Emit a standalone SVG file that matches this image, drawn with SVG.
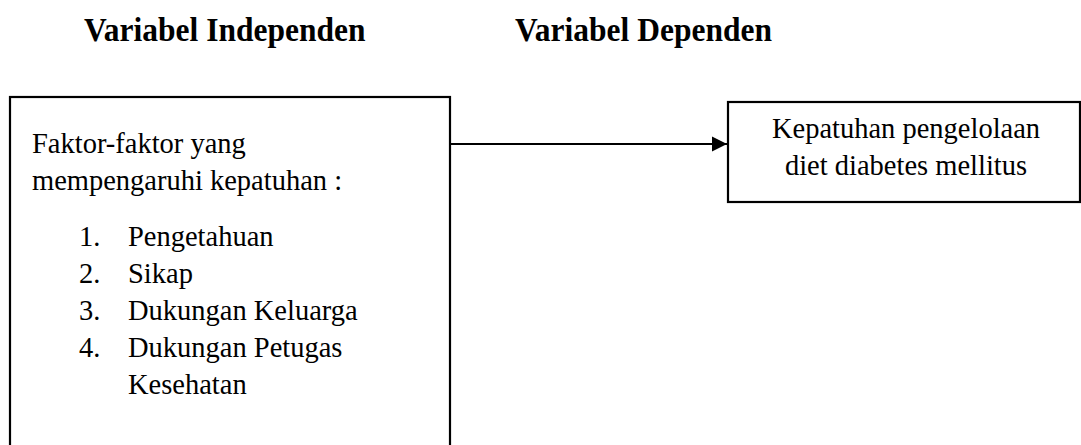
<svg xmlns="http://www.w3.org/2000/svg" width="1081" height="445" viewBox="0 0 1081 445">
  <style>
    .title { font-family: "Liberation Serif", "Times New Roman", serif; font-weight: bold; font-size: 31.5px; fill: #000; }
    .body { font-family: "Liberation Serif", "Times New Roman", serif; font-size: 28.5px; fill: #000; }
    .box { fill: #fff; stroke: #000; stroke-width: 2.2; }
    .link { stroke: #000; stroke-width: 2.2; fill: none; }
  </style>
  <defs>
    <marker id="arrowhead" markerUnits="userSpaceOnUse" markerWidth="16" markerHeight="16" refX="15" refY="8" orient="auto">
      <path d="M0,0.5 L15,8 L0,15.5 Z" fill="#000"/>
    </marker>
  </defs>

  <rect width="1081" height="445" fill="#fff"/>

  <!-- column headings (slightly tall glyphs, scaled about the baseline) -->
  <text class="title" transform="translate(84,41) scale(1,1.07)">Variabel Independen</text>
  <text class="title" transform="translate(515,41) scale(1,1.07)">Variabel Dependen</text>

  <!-- independent variables -->
  <g id="independent">
    <rect class="box" x="10" y="97" width="440" height="360"/>
    <text class="body" transform="translate(32,153) scale(1,1.07)">Faktor-faktor yang</text>
    <text class="body" transform="translate(32,190) scale(1,1.07)">mempengaruhi kepatuhan :</text>
    <text class="body" transform="translate(79,246) scale(1,1.07)">1.</text>
    <text class="body" transform="translate(128,246) scale(1,1.07)">Pengetahuan</text>
    <text class="body" transform="translate(79,283) scale(1,1.07)">2.</text>
    <text class="body" transform="translate(128,283) scale(1,1.07)">Sikap</text>
    <text class="body" transform="translate(79,320) scale(1,1.07)">3.</text>
    <text class="body" transform="translate(128,320) scale(1,1.07)">Dukungan Keluarga</text>
    <text class="body" transform="translate(79,357) scale(1,1.07)">4.</text>
    <text class="body" transform="translate(128,357) scale(1,1.07)">Dukungan Petugas</text>
    <text class="body" transform="translate(128,394) scale(1,1.07)">Kesehatan</text>
  </g>

  <!-- dependent variable -->
  <g id="dependent">
    <rect class="box" x="728" y="102" width="352" height="100"/>
    <text class="body" transform="translate(906,138) scale(1,1.07)" text-anchor="middle">Kepatuhan pengelolaan</text>
    <text class="body" transform="translate(906,175) scale(1,1.07)" text-anchor="middle">diet diabetes mellitus</text>
  </g>

  <!-- connectors -->
  <g id="connectors">
    <line class="link" x1="451" y1="144" x2="727" y2="144" marker-end="url(#arrowhead)"/>
  </g>
</svg>
